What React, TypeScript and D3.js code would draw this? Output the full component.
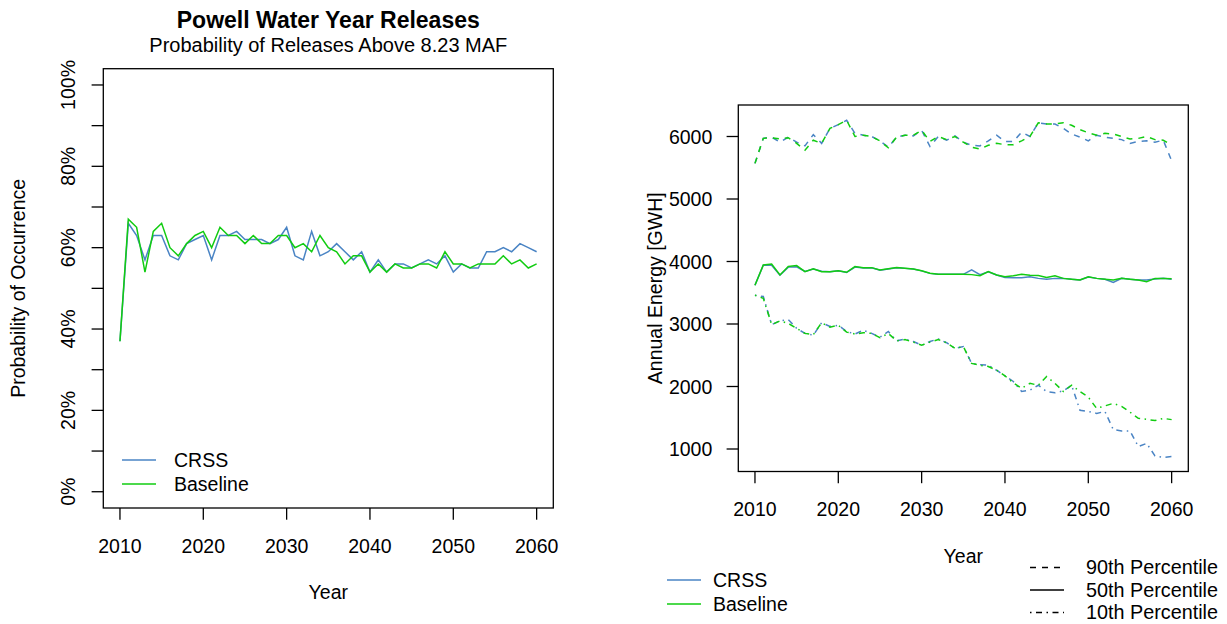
import React, { useEffect } from "react";
import * as d3 from "d3";

const years: number[] = d3.range(2010, 2061);

const crssProb = [37, 66, 63, 57, 63, 63, 58, 57, 61, 62, 63, 57, 63, 63, 64, 62, 62, 62, 61, 62, 65, 58, 57, 64, 58, 59, 61, 59, 57, 59, 54, 57, 54, 56, 56, 55, 56, 57, 56, 58, 54, 56, 55, 55, 59, 59, 60, 59, 61, 60, 59];
const baseProb = [37, 67, 65, 54, 64, 66, 60, 58, 61, 63, 64, 60, 65, 63, 63, 61, 63, 61, 61, 63, 63, 60, 61, 59, 63, 60, 59, 56, 58, 58, 54, 56, 54, 56, 55, 55, 56, 56, 55, 59, 56, 56, 55, 56, 56, 56, 58, 56, 57, 55, 56];

const crss90 = [5570, 5970, 5990, 5910, 5990, 5910, 5850, 6030, 5890, 6130, 6190, 6260, 6050, 6020, 6000, 5930, 5830, 5990, 6020, 6010, 6100, 5840, 6000, 5940, 6010, 5910, 5860, 5850, 5930, 6020, 5920, 5920, 6070, 6000, 6220, 6200, 6200, 6130, 6040, 5990, 5930, 6020, 5990, 5970, 5950, 5890, 5920, 5930, 5910, 5940, 5610];
const base90 = [5570, 5970, 5980, 5960, 5980, 5890, 5780, 5940, 5890, 6130, 6190, 6260, 6000, 6020, 6000, 5930, 5820, 5990, 6020, 6020, 6100, 5920, 6000, 5950, 6000, 5910, 5830, 5800, 5860, 5890, 5870, 5870, 5930, 6000, 6220, 6200, 6200, 6220, 6180, 6110, 6060, 6020, 6050, 6040, 6000, 5960, 5970, 6000, 5950, 5940, 5860];

const crss50 = [3620, 3940, 3940, 3780, 3910, 3915, 3840, 3880, 3845, 3835, 3850, 3825, 3910, 3895, 3900, 3860, 3880, 3900, 3890, 3880, 3850, 3810, 3795, 3795, 3795, 3795, 3865, 3790, 3835, 3785, 3745, 3740, 3740, 3755, 3730, 3715, 3730, 3730, 3715, 3705, 3750, 3730, 3715, 3665, 3730, 3715, 3705, 3705, 3720, 3730, 3715];
const base50 = [3620, 3945, 3960, 3785, 3920, 3935, 3838, 3882, 3838, 3838, 3853, 3828, 3918, 3902, 3902, 3865, 3885, 3902, 3892, 3880, 3853, 3812, 3795, 3795, 3795, 3795, 3790, 3773, 3838, 3785, 3757, 3773, 3795, 3780, 3775, 3745, 3773, 3730, 3717, 3704, 3757, 3730, 3717, 3704, 3730, 3717, 3704, 3677, 3730, 3730, 3725];

const crss10 = [3460, 3440, 2990, 3050, 3070, 2930, 2850, 2820, 3020, 2960, 2980, 2880, 2840, 2900, 2850, 2790, 2880, 2730, 2760, 2720, 2660, 2720, 2760, 2700, 2610, 2640, 2370, 2350, 2340, 2260, 2170, 2080, 1920, 1940, 2020, 1920, 1900, 1930, 2020, 1620, 1600, 1570, 1600, 1310, 1290, 1290, 1040, 1090, 890, 865, 880];
const base10 = [3460, 3410, 2990, 3050, 3010, 2930, 2850, 2830, 3020, 2950, 2980, 2870, 2840, 2860, 2850, 2780, 2850, 2730, 2750, 2710, 2660, 2710, 2750, 2700, 2610, 2640, 2370, 2340, 2320, 2260, 2170, 2060, 1970, 2050, 2020, 2160, 2050, 1920, 2020, 1920, 1830, 1650, 1690, 1730, 1680, 1590, 1490, 1475, 1455, 1490, 1470];

const xTicks = [2010, 2020, 2030, 2040, 2050, 2060];
const probTicks = [0, 10, 20, 30, 40, 50, 60, 70, 80, 90, 100];
const probLabels = [0, 20, 40, 60, 80, 100];
const energyTicks = [1000, 2000, 3000, 4000, 5000, 6000];

const seriesNames = ["CRSS", "Baseline"];
const percentileNames = ["90th Percentile", "50th Percentile", "10th Percentile"];

const CRSS_COLOR = "#4A84C4";
const BASE_COLOR = "#11CC11";
const FONT = "'Liberation Sans', Arial, Helvetica, sans-serif";
const FS = 19.5;
const DASH = "6,6";
const DOTDASH = "1.5,4.5,6,4.5";

export default function App() {
  useEffect(() => {
    document.body.style.margin = "0";
  }, []);

  // Left panel
  const L = { x0: 103.3, x1: 553.3, y0: 68.7, y1: 508 };
  const xL = d3.scaleLinear().domain([2008, 2062]).range([L.x0, L.x1]);
  const yL = d3.scaleLinear().domain([-4, 104]).range([L.y1, L.y0]);
  const lineL = (vals: number[]) =>
    d3.line<number>().x((_, i) => xL(years[i])).y((v) => yL(v))(vals) || "";

  // Right panel
  const R = { x0: 738.3, x1: 1188.3, y0: 105, y1: 471.5 };
  const xR = d3.scaleLinear().domain([2008, 2062]).range([R.x0, R.x1]);
  const yR = d3.scaleLinear().domain([640, 6504]).range([R.y1, R.y0]);
  const lineR = (vals: number[]) =>
    d3.line<number>().x((_, i) => xR(years[i])).y((v) => yR(v))(vals) || "";

  const tick = 11.7;
  const txt = { fontFamily: FONT, fontSize: FS, fill: "#000" } as const;

  const rightSeries = [
    { v: crss90, c: CRSS_COLOR, d: DASH },
    { v: base90, c: BASE_COLOR, d: DASH },
    { v: crss50, c: CRSS_COLOR, d: undefined },
    { v: base50, c: BASE_COLOR, d: undefined },
    { v: crss10, c: CRSS_COLOR, d: DOTDASH },
    { v: base10, c: BASE_COLOR, d: DOTDASH },
  ];

  return (
    <svg width={1227} height={624} style={{ position: "absolute", left: 0, top: 0, background: "#fff" }}>
      <rect x={0} y={0} width={1227} height={624} fill="#fff" />
      {/* Left titles */}
      <text x={(L.x0 + L.x1) / 2} y={28} textAnchor="middle" style={{ ...txt, fontSize: 23, fontWeight: "bold" }}>
        Powell Water Year Releases
      </text>
      <text x={(L.x0 + L.x1) / 2} y={52} textAnchor="middle" style={{ ...txt, fontSize: 20 }}>
        Probability of Releases Above 8.23 MAF
      </text>

      {/* Left lines */}
      <path d={lineL(crssProb)} fill="none" stroke={CRSS_COLOR} strokeWidth={1.5} />
      <path d={lineL(baseProb)} fill="none" stroke={BASE_COLOR} strokeWidth={1.5} />

      {/* Left box */}
      <rect x={L.x0} y={L.y0} width={L.x1 - L.x0} height={L.y1 - L.y0} fill="none" stroke="#000" strokeWidth={1.3} />
      {xTicks.map((t) => (
        <g key={"lx" + t}>
          <line x1={xL(t)} x2={xL(t)} y1={L.y1} y2={L.y1 + tick} stroke="#000" strokeWidth={1.3} />
          <text x={xL(t)} y={L.y1 + 45} textAnchor="middle" style={txt}>{t}</text>
        </g>
      ))}
      {probTicks.map((t) => (
        <line key={"ly" + t} x1={L.x0 - tick} x2={L.x0} y1={yL(t)} y2={yL(t)} stroke="#000" strokeWidth={1.3} />
      ))}
      {probLabels.map((t) => (
        <text key={"lyl" + t} transform={`translate(${L.x0 - 28},${yL(t)}) rotate(-90)`} textAnchor="middle" style={txt}>
          {t + "%"}
        </text>
      ))}
      <text x={(L.x0 + L.x1) / 2} y={L.y1 + 91} textAnchor="middle" style={txt}>Year</text>
      <text transform={`translate(${L.x0 - 78},${(L.y0 + L.y1) / 2}) rotate(-90)`} textAnchor="middle" style={txt}>
        Probability of Occurrence
      </text>

      {/* Left legend */}
      {seriesNames.map((n, i) => (
        <g key={"ll" + n}>
          <line x1={122} x2={156} y1={460 + i * 24} y2={460 + i * 24} stroke={i === 0 ? CRSS_COLOR : BASE_COLOR} strokeWidth={1.5} />
          <text x={174} y={460 + i * 24 + 7} style={txt}>{n}</text>
        </g>
      ))}

      {/* Right lines */}
      {rightSeries.map((s, i) => (
        <path key={"rs" + i} d={lineR(s.v)} fill="none" stroke={s.c} strokeWidth={1.5} strokeDasharray={s.d} />
      ))}

      {/* Right box */}
      <rect x={R.x0} y={R.y0} width={R.x1 - R.x0} height={R.y1 - R.y0} fill="none" stroke="#000" strokeWidth={1.3} />
      {xTicks.map((t) => (
        <g key={"rx" + t}>
          <line x1={xR(t)} x2={xR(t)} y1={R.y1} y2={R.y1 + tick} stroke="#000" strokeWidth={1.3} />
          <text x={xR(t)} y={R.y1 + 44} textAnchor="middle" style={txt}>{t}</text>
        </g>
      ))}
      {energyTicks.map((t) => (
        <g key={"ry" + t}>
          <line x1={R.x0 - tick} x2={R.x0} y1={yR(t)} y2={yR(t)} stroke="#000" strokeWidth={1.3} />
          <text x={R.x0 - 26} y={yR(t) + 7} textAnchor="end" style={txt}>{t}</text>
        </g>
      ))}
      <text x={(R.x0 + R.x1) / 2} y={R.y1 + 91} textAnchor="middle" style={txt}>Year</text>
      <text transform={`translate(${R.x0 - 76},${(R.y0 + R.y1) / 2}) rotate(-90)`} textAnchor="middle" style={txt}>
        Annual Energy [GWH]
      </text>

      {/* Bottom legends */}
      {seriesNames.map((n, i) => (
        <g key={"bl" + n}>
          <line x1={667} x2={701} y1={580 + i * 24} y2={580 + i * 24} stroke={i === 0 ? CRSS_COLOR : BASE_COLOR} strokeWidth={1.5} />
          <text x={713} y={580 + i * 24 + 7} style={txt}>{n}</text>
        </g>
      ))}
      {percentileNames.map((n, i) => (
        <g key={"pl" + n}>
          <line x1={1030} x2={1064} y1={567.5 + i * 22.5} y2={567.5 + i * 22.5} stroke="#000" strokeWidth={1.3}
            strokeDasharray={i === 0 ? DASH : i === 2 ? DOTDASH : undefined} />
          <text x={1086} y={567.5 + i * 22.5 + 6.5} style={{ ...txt, fontSize: 19.8 }}>{n}</text>
        </g>
      ))}
    </svg>
  );
}
